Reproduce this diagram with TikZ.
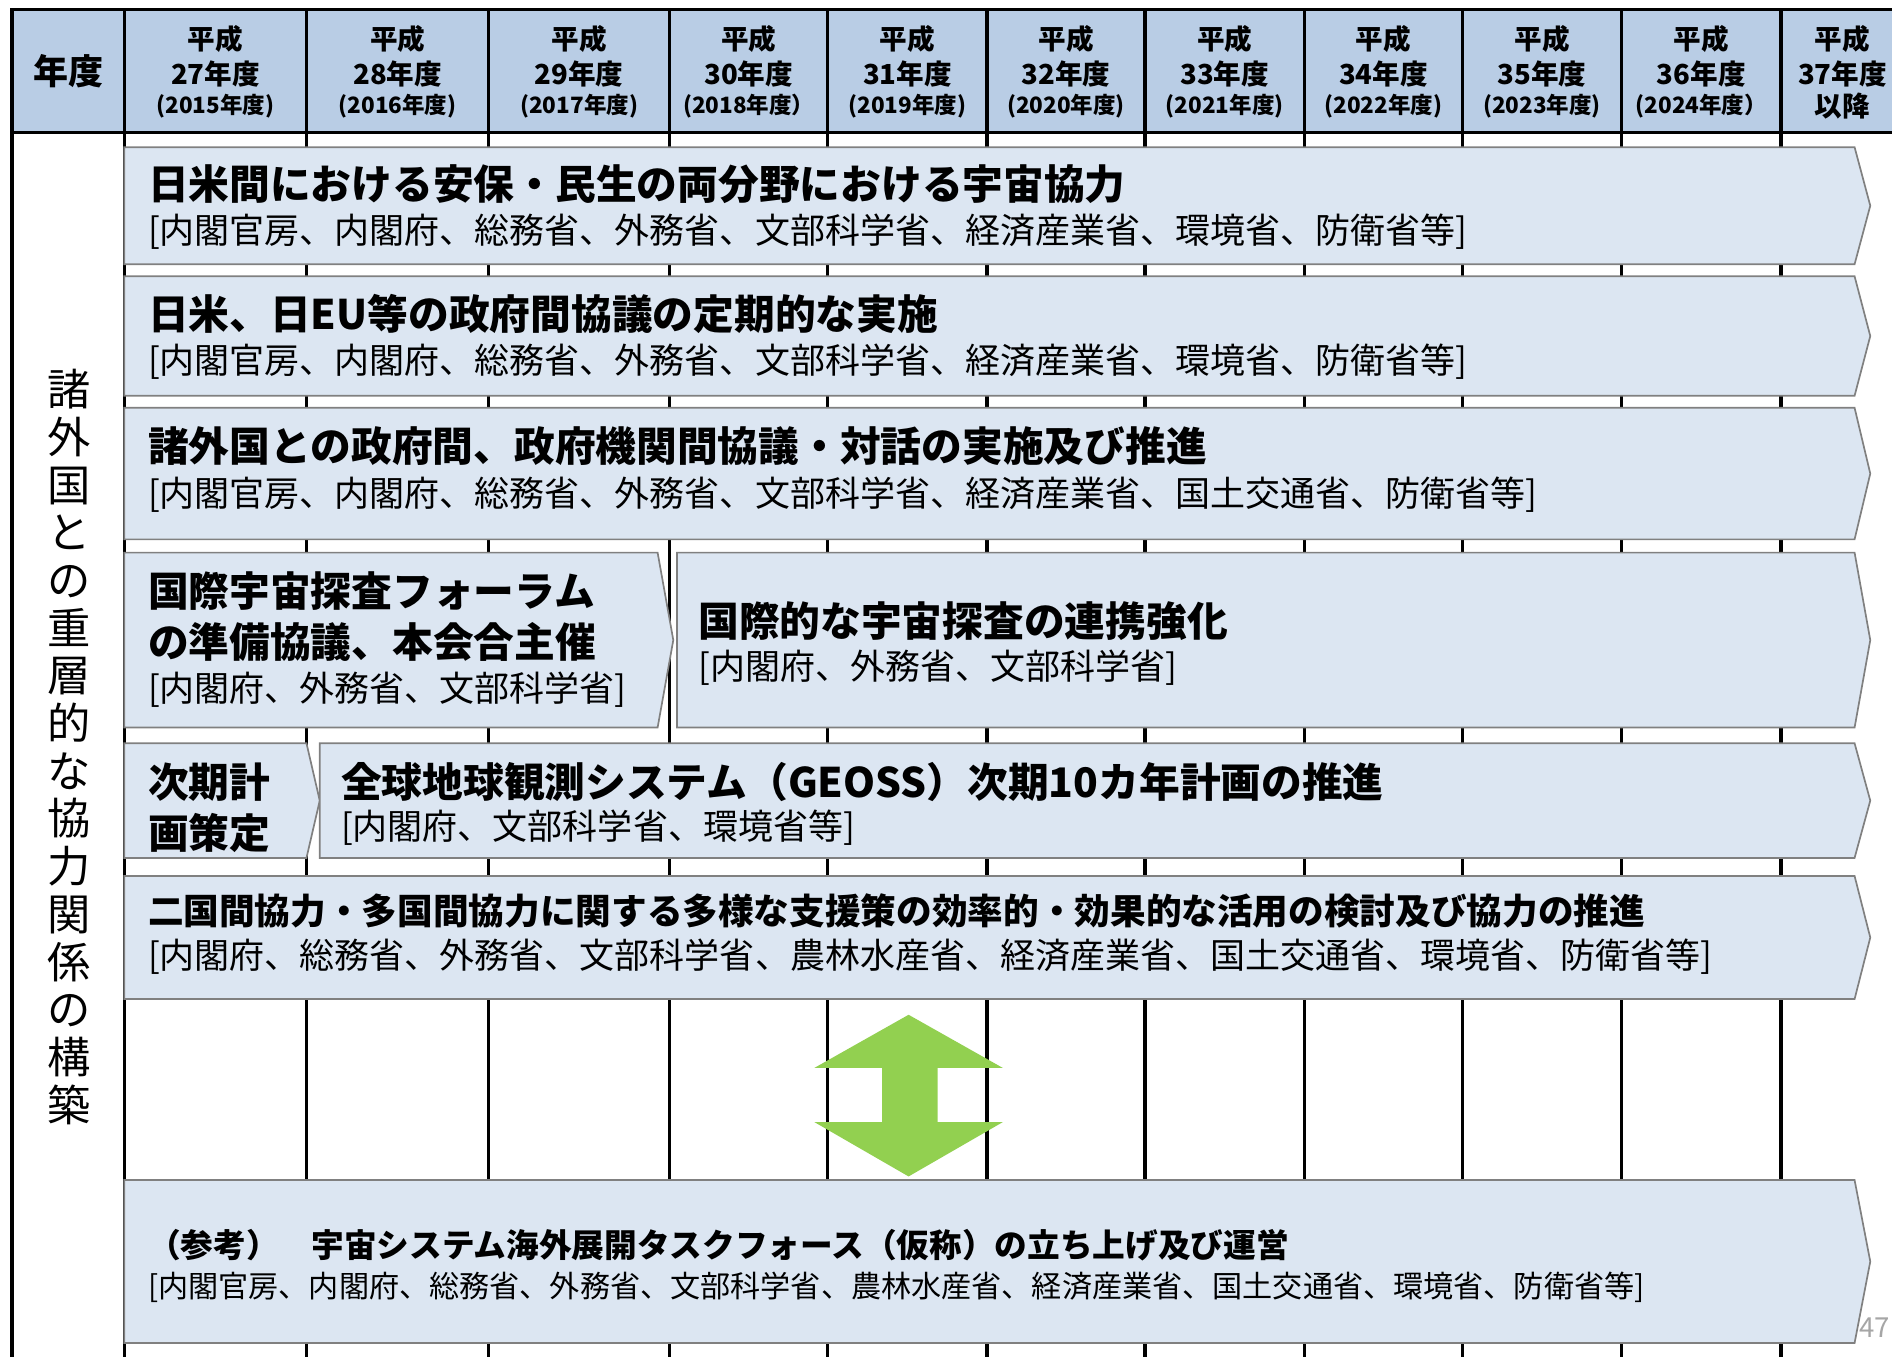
\documentclass[tikz,border=0pt]{standalone}
\usepackage{fontspec}
\setmainfont{Noto Sans CJK JP}

\definecolor{headblue}{HTML}{B9CDE5}
\definecolor{barblue}{HTML}{DCE6F2}
\definecolor{bargray}{HTML}{808080}
\definecolor{arrowgreen}{HTML}{92D050}
\definecolor{pagegray}{HTML}{A6A6A6}

\newcommand{\setfs}[1]{\fontsize{#1}{#1}\selectfont}

\tikzset{
  gridline/.style={line width=0.8pt},
  bar/.style={fill=barblue, draw=bargray, line width=0.4pt},
  bartitle/.style={anchor=west, inner sep=0pt, font=\bfseries\setfs{9.6}},
  barsub/.style={anchor=west, inner sep=0pt, font=\setfs{8.25}},
  headtext/.style={inner sep=0pt, font=\bfseries\setfs{6.5}},
  headsmall/.style={inner sep=0pt, font=\bfseries\setfs{5.3}}
}

\begin{document}
\begin{tikzpicture}[x=0.01cm, y=-0.01cm]
    \useasboundingbox (0,0) rectangle (1568,1125);

    % header row and grid
    \fill[headblue] (10,8) rectangle (1568,110);
    \draw[gridline] (1568,8) -- (10,8) -- (10,1125);
    \draw[gridline] (10,110) -- (1568,110);
    \foreach \x in {103,254,405,555,686,818,949,1081,1212,1344,1476}
        \draw[gridline] (\x,8) -- (\x,1125);

    \node[inner sep=0pt, font=\bfseries\setfs{8.25}] (nendo) at (57,59) {年度};
    \foreach \cx/\hy/\wy [count=\i] in {178.5/27/(2015年度), 329.5/28/(2016年度), 480/29/(2017年度),
        620.5/30/(2018年度）, 752/31/(2019年度), 883.5/32/(2020年度), 1015/33/(2021年度),
        1146.5/34/(2022年度), 1278/35/(2023年度), 1410/36/(2024年度）}
    {
        \node[headtext] (heisei\i) at (\cx,32) {平成};
        \node[headtext] (wareki\i) at (\cx,61) {\hy 年度};
        \node[headsmall] (seireki\i) at (\cx,88) {\wy};
    }
    \node[headtext] (heisei11) at (1527,32) {平成};
    \node[headtext] (wareki11) at (1527,61) {37年度};
    \node[headtext] (ikou) at (1527,88) {以降};

    % row label
    \node[align=center, inner sep=0pt, font=\fontsize{10.2}{11.24}\selectfont] (kouchiku) at (57,619)
        {諸\\外\\国\\と\\の\\重\\層\\的\\な\\協\\力\\関\\係\\の\\構\\築};

    % bars
    \filldraw[bar] (103,122) -- (1537,122) -- (1550,170.5) -- (1537,219) -- (103,219) -- cycle;
    \node[bartitle] (title1) at (122,153) {日米間における安保・民生の両分野における宇宙協力};
    \node[barsub] (sub1) at (122,192) {[内閣官房、内閣府、総務省、外務省、文部科学省、経済産業省、環境省、防衛省等]};

    \filldraw[bar] (103,229) -- (1537,229) -- (1550,278.5) -- (1537,328) -- (103,328) -- cycle;
    \node[bartitle] (title2) at (122,260) {日米、日EU等の政府間協議の定期的な実施};
    \node[barsub] (sub2) at (122,300) {[内閣官房、内閣府、総務省、外務省、文部科学省、経済産業省、環境省、防衛省等]};

    \filldraw[bar] (103,338) -- (1537,338) -- (1550,392.5) -- (1537,447) -- (103,447) -- cycle;
    \node[bartitle] (title3) at (122,370) {諸外国との政府間、政府機関間協議・対話の実施及び推進};
    \node[barsub] (sub3) at (122,410) {[内閣官房、内閣府、総務省、外務省、文部科学省、経済産業省、国土交通省、防衛省等]};

    \filldraw[bar] (103,458) -- (545,458) -- (558,530.5) -- (545,603) -- (103,603) -- cycle;
    \node[bartitle] (title4a) at (122,490) {国際宇宙探査フォーラム};
    \node[bartitle] (title4b) at (122,532) {の準備協議、本会合主催};
    \node[barsub] (sub4a) at (122,572) {[内閣府、外務省、文部科学省]};

    \filldraw[bar] (561,458) -- (1537,458) -- (1550,530.5) -- (1537,603) -- (561,603) -- cycle;
    \node[bartitle] (title4c) at (578,515) {国際的な宇宙探査の連携強化};
    \node[barsub] (sub4c) at (578,553) {[内閣府、外務省、文部科学省]};

    \filldraw[bar] (103,616) -- (254,616) -- (265,663.5) -- (254,711) -- (103,711) -- cycle;
    \node[bartitle] (title5a) at (122,648) {次期計};
    \node[bartitle] (title5b) at (122,690) {画策定};

    \filldraw[bar] (265,616) -- (1537,616) -- (1550,663.5) -- (1537,711) -- (265,711) -- cycle;
    \node[bartitle] (title5c) at (282,648) {全球地球観測システム（GEOSS）次期10カ年計画の推進};
    \node[barsub] (sub5c) at (282,686) {[内閣府、文部科学省、環境省等]};

    \filldraw[bar] (103,726) -- (1537,726) -- (1550,777) -- (1537,828) -- (103,828) -- cycle;
    \node[bartitle, font=\bfseries\setfs{8.4}] (title6) at (122,755) {二国間協力・多国間協力に関する多様な支援策の効率的・効果的な活用の検討及び協力の推進};
    \node[barsub] (sub6) at (122,793) {[内閣府、総務省、外務省、文部科学省、農林水産省、経済産業省、国土交通省、環境省、防衛省等]};

    % two-way arrow
    \fill[arrowgreen] (753,841) -- (831,885) -- (777,885) -- (777,930) -- (831,930) -- (753,975)
        -- (675,930) -- (731,930) -- (731,885) -- (675,885) -- cycle;

    \filldraw[bar] (103,978) -- (1537,978) -- (1550,1045.5) -- (1537,1113) -- (103,1113) -- cycle;
    \node[bartitle, font=\bfseries\setfs{7.7}] (title7) at (122,1032) {（参考）　宇宙システム海外展開タスクフォース（仮称）の立ち上げ及び運営};
    \node[barsub, font=\setfs{7.1}] (sub7) at (122,1067) {[内閣官房、内閣府、総務省、外務省、文部科学省、農林水産省、経済産業省、国土交通省、環境省、防衛省等]};

    \node[anchor=east, inner sep=0pt, text=pagegray, font=\setfs{6.5}] (pageno) at (1567,1100) {47};
\end{tikzpicture}
\end{document}
